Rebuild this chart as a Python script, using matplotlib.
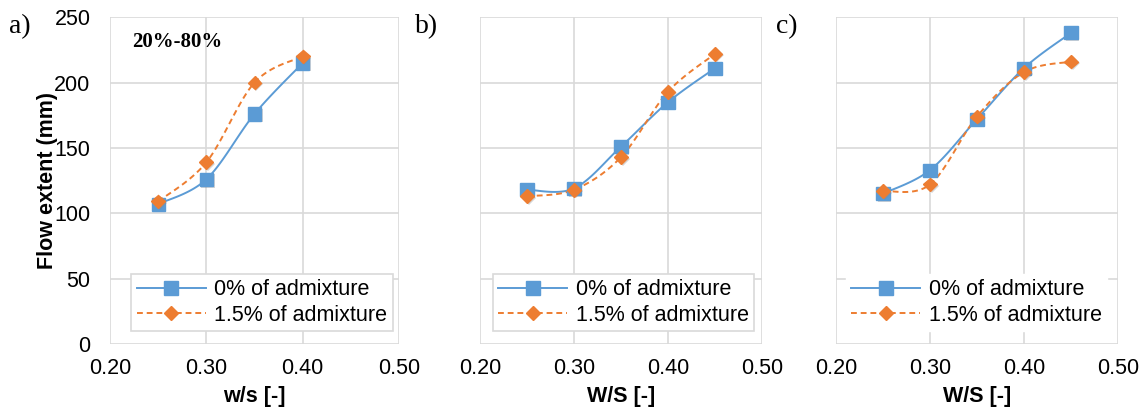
import numpy as np
import matplotlib
matplotlib.use("Agg")
from matplotlib import pyplot as plt
from matplotlib import patheffects as pe

plt.rcParams['font.family'] = ['Liberation Sans', 'DejaVu Sans']

# data
ws_a = [0.25, 0.30, 0.35, 0.40]
a_0 = [107, 126, 176, 215]
a_15 = [109, 139, 200, 220]

ws_bc = [0.25, 0.30, 0.35, 0.40, 0.45]
b_0 = [118, 119, 151, 185, 211]
b_15 = [113, 118, 143, 193, 222]
c_0 = [115, 133, 172, 211, 238]
c_15 = [117, 122, 174, 208, 216]

labels = ['0% of admixture', '1.5% of admixture']
xticks = [0.20, 0.30, 0.40, 0.50]
yticks = [0, 50, 100, 150, 200, 250]

blue = '#5B9BD5'
orange = '#ED7D31'
fs = 15.5


def smooth(x, y, n=30):
    # catmull-rom style curve like excel "smoothed line"
    x = np.asarray(x, float)
    y = np.asarray(y, float)
    px, py = [], []
    for i in range(len(x) - 1):
        x0, y0 = (x[i - 1], y[i - 1]) if i > 0 else (x[i], y[i])
        x3, y3 = (x[i + 2], y[i + 2]) if i + 2 < len(x) else (x[i + 1], y[i + 1])
        x1, y1, x2, y2 = x[i], y[i], x[i + 1], y[i + 1]
        c1x, c1y = x1 + (x2 - x0) / 6, y1 + (y2 - y0) / 6
        c2x, c2y = x2 - (x3 - x1) / 6, y2 - (y3 - y1) / 6
        t = np.linspace(0, 1, n)
        bx = (1-t)**3*x1 + 3*(1-t)**2*t*c1x + 3*(1-t)*t**2*c2x + t**3*x2
        by = (1-t)**3*y1 + 3*(1-t)**2*t*c1y + 3*(1-t)*t**2*c2y + t**3*y2
        px.extend(bx)
        py.extend(by)
    return px, py


shadow = [pe.SimplePatchShadow(offset=(1.2, -1.2), shadow_rgbFace='#888888', alpha=0.35),
          pe.Normal()]

fig = plt.figure(figsize=(11.43, 4.09), dpi=100)
boxes = [[0.0962, 0.159, 0.2530, 0.799],
         [0.4200, 0.159, 0.2467, 0.799],
         [0.7314, 0.159, 0.2467, 0.799]]
series = [(ws_a, a_0, a_15), (ws_bc, b_0, b_15), (ws_bc, c_0, c_15)]
xlabels = ['w/s [-]', 'W/S [-]', 'W/S [-]']
panel = ['a)', 'b)', 'c)']
panel_x = [0.008, 0.363, 0.679]
leg_anchor = [(1.0, 0.02), (0.995, 0.02), (0.985, 0.02)]

for k in range(3):
    ax = fig.add_axes(boxes[k])
    xs, y0, y1 = series[k]
    sx, sy = smooth(xs, y0)
    ax.plot(sx, sy, color=blue, lw=1.4, zorder=3)
    ax.plot(xs, y0, ls='none', marker='s', ms=9.5, color=blue, zorder=4,
            path_effects=shadow)
    sx, sy = smooth(xs, y1)
    ax.plot(sx, sy, color=orange, lw=1.4, ls=(0, (3, 2)), zorder=3)
    ax.plot(xs, y1, ls='none', marker='D', ms=7, color=orange, zorder=5,
            path_effects=shadow)
    # legend proxies
    h0, = ax.plot([], [], color=blue, lw=1.4, marker='s', ms=9.5)
    h1, = ax.plot([], [], color=orange, lw=1.4, ls=(0, (3, 2)), marker='D', ms=7)

    ax.set_xlim(0.20, 0.50)
    ax.set_ylim(0, 250)
    ax.set_xticks(xticks)
    ax.set_xticklabels(['%.2f' % v for v in xticks])
    ax.set_yticks(yticks)
    ax.grid(True, color='#d9d9d9', lw=1.2)
    ax.set_axisbelow(True)
    for s in ax.spines.values():
        s.set_visible(False)
    ax.tick_params(length=0, labelsize=fs, colors='#000000')
    ax.tick_params(axis='x', pad=10)
    ax.tick_params(axis='y', pad=14)
    if k > 0:
        ax.set_yticklabels([])
    ax.set_xlabel(xlabels[k], fontsize=fs, fontweight='bold', labelpad=5)
    if k == 0:
        ax.set_ylabel('Flow extent (mm)', fontsize=fs, fontweight='bold', labelpad=-2.5)
        ax.text(0.078, 0.925, '20%-80%', transform=ax.transAxes, fontsize=15,
                fontweight='bold', family='Liberation Serif', va='center')

    leg = ax.legend([h0, h1], labels, loc='lower right', bbox_to_anchor=leg_anchor[k],
                    fontsize=fs, handlelength=3.2, labelspacing=0.2, borderpad=0.25,
                    handletextpad=0.4, borderaxespad=0.3, fancybox=False, framealpha=1)
    if k == 2:
        leg.get_frame().set_edgecolor('white')
    else:
        leg.get_frame().set_edgecolor('#d9d9d9')
        leg.get_frame().set_linewidth(1.2)

    fig.text(panel_x[k], 0.92, panel[k], fontsize=20, family='Liberation Serif')

fig.savefig('out.png', dpi=100)
